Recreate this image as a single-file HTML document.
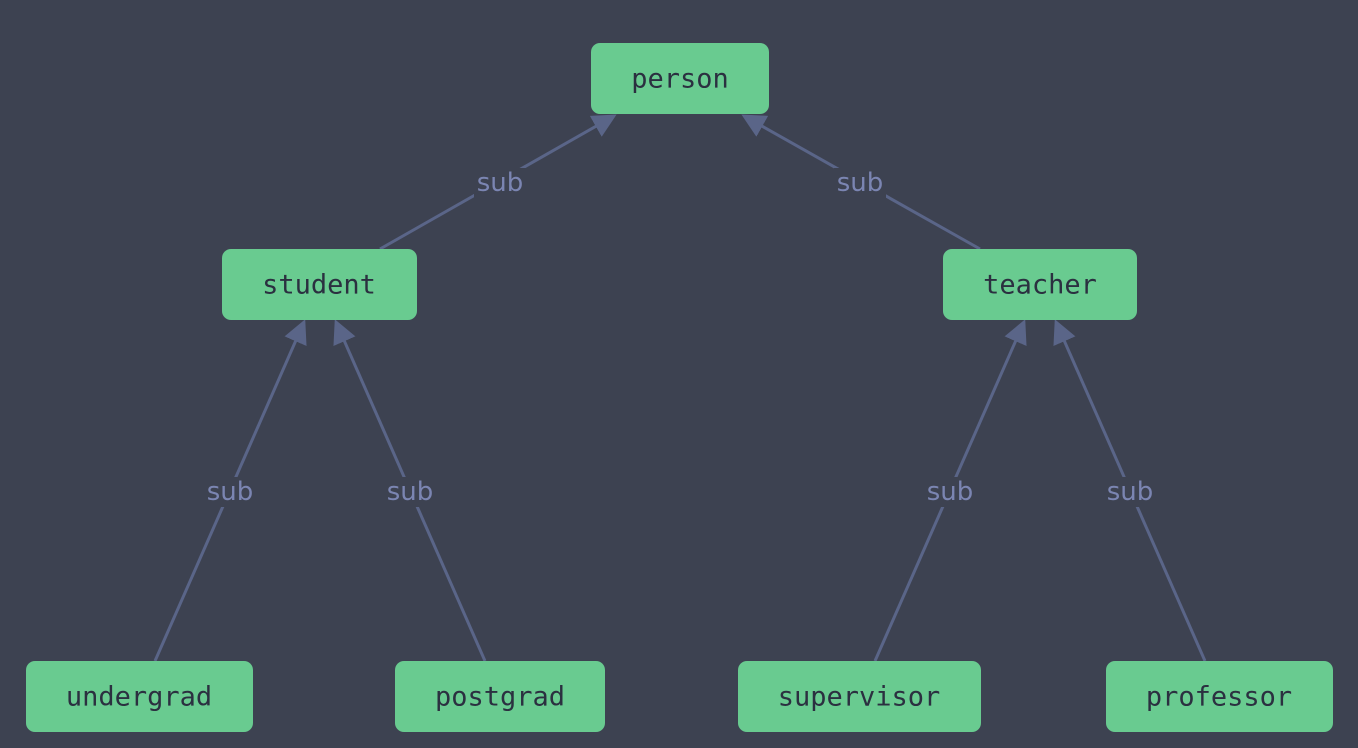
<!DOCTYPE html>
<html><head><meta charset="utf-8"><style>
html,body{margin:0;padding:0;background:#3d4251;}
svg{display:block}
.n{fill:#69cb90}
.t{font-family:"DejaVu Sans Mono","Liberation Mono",monospace;font-size:27px;fill:#2b3040;text-anchor:middle;dominant-baseline:central;font-weight:500}
.e{stroke:#5a6588;stroke-width:3;fill:none}
.l{font-family:"DejaVu Sans","Liberation Sans",sans-serif;font-size:26px;fill:#7b85b2;text-anchor:middle;dominant-baseline:central}
.lb{fill:#3d4251}
</style></head><body>
<svg width="1358" height="748" viewBox="0 0 1358 748">
<defs><marker id="a" markerWidth="8" markerHeight="8" refX="7" refY="4" orient="auto" markerUnits="strokeWidth" viewBox="0 0 8 8"><path d="M0,0 L8,4 L0,8 z" fill="#5a6588"/></marker></defs>
<line class="e" x1="380" y1="249" x2="614" y2="116" marker-end="url(#a)"/>
<line class="e" x1="980" y1="249" x2="744" y2="116" marker-end="url(#a)"/>
<line class="e" x1="155" y1="661" x2="304" y2="322" marker-end="url(#a)"/>
<line class="e" x1="485" y1="661" x2="336" y2="322" marker-end="url(#a)"/>
<line class="e" x1="875" y1="661" x2="1024" y2="322" marker-end="url(#a)"/>
<line class="e" x1="1205" y1="661" x2="1056" y2="322" marker-end="url(#a)"/>
<rect class="lb" x="474" y="168" width="52" height="30"/><text class="l" x="500" y="183">sub</text>
<rect class="lb" x="834" y="168" width="52" height="30"/><text class="l" x="860" y="183">sub</text>
<rect class="lb" x="204" y="477" width="52" height="30"/><text class="l" x="230" y="492">sub</text>
<rect class="lb" x="384" y="477" width="52" height="30"/><text class="l" x="410" y="492">sub</text>
<rect class="lb" x="924" y="477" width="52" height="30"/><text class="l" x="950" y="492">sub</text>
<rect class="lb" x="1104" y="477" width="52" height="30"/><text class="l" x="1130" y="492">sub</text>
<rect class="n" x="591" y="43" width="178" height="71" rx="9"/><text class="t" x="680" y="79">person</text>
<rect class="n" x="222" y="249" width="195" height="71" rx="9"/><text class="t" x="319" y="285">student</text>
<rect class="n" x="943" y="249" width="194" height="71" rx="9"/><text class="t" x="1040" y="285">teacher</text>
<rect class="n" x="26" y="661" width="227" height="71" rx="9"/><text class="t" x="139" y="697">undergrad</text>
<rect class="n" x="395" y="661" width="210" height="71" rx="9"/><text class="t" x="500" y="697">postgrad</text>
<rect class="n" x="738" y="661" width="243" height="71" rx="9"/><text class="t" x="859" y="697">supervisor</text>
<rect class="n" x="1106" y="661" width="227" height="71" rx="9"/><text class="t" x="1219" y="697">professor</text>
</svg>
</body></html>
